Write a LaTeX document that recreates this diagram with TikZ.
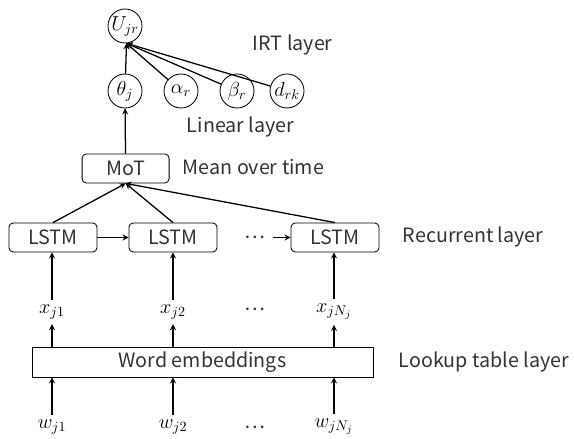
\documentclass[tikz,border=0pt]{standalone}
\usepackage{fontspec}
\setmainfont{Noto Sans CJK JP}
\begin{document}
\begin{tikzpicture}[>=stealth, font=\fontsize{14}{16}\selectfont,
    var/.style={draw, circle, inner sep=0pt, minimum size=0.85cm, line width=0.6pt, font=\fontsize{14.4}{17}\selectfont},
    sym/.style={font=\fontsize{14.4}{17}\selectfont},
    cell/.style={draw, rounded corners=3pt, minimum width=2.2cm, minimum height=0.725cm, line width=0.6pt, text=black!80},
    layer/.style={anchor=west, text=black!80},
    conn/.style={->, line width=0.9pt}]
  \useasboundingbox (0,0) rectangle (14.35,10.975);

  \node[var] (ujr) at (3.125,10.325) {$U_{jr}$};
  \node[var] (theta) at (3.125,8.7) {$\theta_j$};
  \node[var] (alpha) at (4.525,8.7) {$\alpha_r$};
  \node[var] (beta) at (5.925,8.7) {$\beta_r$};
  \node[var] (drk) at (7.175,8.7) {$d_{rk}$};
  \node[layer] (irt) at (6.2,9.85) {IRT layer};
  \node[layer] (linear) at (4.55,7.8) {Linear layer};
  \draw[conn] (theta) -- (ujr.-85);
  \draw[conn] (alpha) -- (ujr.-85);
  \draw[conn] (beta) -- (ujr.-85);
  \draw[conn] (drk) -- (ujr.-85);

  \node[cell, minimum width=2.175cm] (mot) at (3.14,6.7625) {MoT};
  \node[layer] (mean) at (4.45,6.8) {Mean over time};
  \draw[conn] (mot) -- (theta);

  \node[cell] (lstma) at (1.325,5.0375) {LSTM};
  \node[cell] (lstmb) at (4.325,5.0375) {LSTM};
  \node[cell] (lstmc) at (8.375,5.0375) {LSTM};
  \node[text=black!80] (ldots) at (6.375,5.05) {…};
  \coordinate (lin) at (6.825,5.0375);
  \node[layer] (recur) at (9.95,5.05) {Recurrent layer};
  \draw[conn] (lstma) -- (lstmb);
  \draw[conn] (lin) -- (lstmc);
  \draw[conn] (lstma.north) -- (mot.south);
  \draw[conn] (lstmb.north) -- (mot.south);
  \draw[conn] (lstmc.north) -- (mot.south);

  \node[sym] (xa) at (1.3,3.175) {$x_{j1}$};
  \node[sym] (xb) at (4.325,3.175) {$x_{j2}$};
  \node[sym] (xc) at (8.35,3.175) {$x_{jN_j}$};
  \node[text=black!80] (xdots) at (6.375,3.25) {…};
  \draw[conn] (xa) -- (xa |- lstma.south);
  \draw[conn] (xb) -- (xb |- lstmb.south);
  \draw[conn] (xc) -- (xc |- lstmc.south);

  \node[draw, line width=0.6pt, minimum width=8.525cm, minimum height=0.75cm, text=black!80] (emb) at (5.0625,1.925) {Word embeddings};
  \node[layer] (lookup) at (9.85,1.925) {Lookup table layer};
  \draw[conn] (xa |- emb.north) -- (xa);
  \draw[conn] (xb |- emb.north) -- (xb);
  \draw[conn] (xc |- emb.north) -- (xc);

  \node[sym] (wa) at (1.3,0.3) {$w_{j1}$};
  \node[sym] (wb) at (4.325,0.3) {$w_{j2}$};
  \node[sym] (wc) at (8.35,0.3) {$w_{jN_j}$};
  \node[text=black!80] (wdots) at (6.375,0.3) {…};
  \draw[conn] (wa) -- (wa |- emb.south);
  \draw[conn] (wb) -- (wb |- emb.south);
  \draw[conn] (wc) -- (wc |- emb.south);
\end{tikzpicture}
\end{document}
